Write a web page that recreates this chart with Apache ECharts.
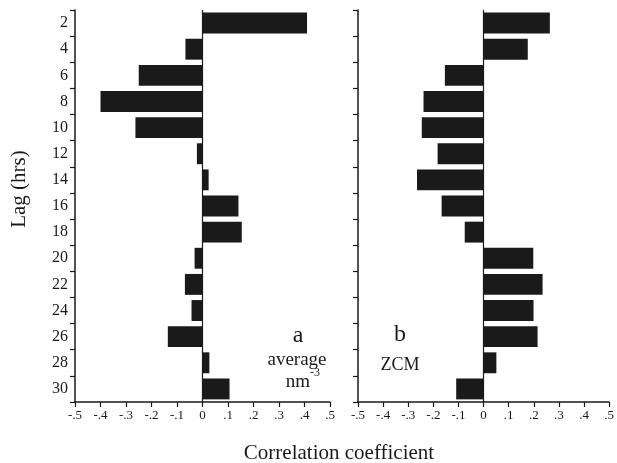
<!DOCTYPE html>
<html><head><meta charset="utf-8">
<script src="https://cdn.jsdelivr.net/npm/echarts@6/dist/echarts.min.js"></script>
<style>html,body{margin:0;padding:0;background:#fff}#c{width:617px;height:463px}</style>
</head><body><div id="c"></div>
<script>
const lags = ['2','4','6','8','10','12','14','16','18','20','22','24','26','28','30'];
const avgNm3 = [0.41,-0.067,-0.25,-0.40,-0.263,-0.022,0.024,0.141,0.154,-0.031,-0.069,-0.043,-0.136,0.027,0.106];
const zcm = [0.264,0.176,-0.154,-0.239,-0.246,-0.183,-0.265,-0.167,-0.075,0.198,0.235,0.199,0.215,0.051,-0.109];

const FONT = 'Liberation Serif';
const BLACK = '#1a1a1a';
const fmt = v => { const r = Math.round(v*10)/10; if (r === 0) return '0'; return (r<0?'-':'') + '.' + Math.round(Math.abs(r)*10); };

function xAxis(gi){
  return {type:'value', gridIndex:gi, min:-0.5, max:0.5, interval:0.1,
    axisLine:{show:true, onZero:false, lineStyle:{color:BLACK,width:1.5}},
    axisTick:{show:true, length:5, lineStyle:{color:BLACK,width:1.2}},
    axisLabel:{formatter:fmt, color:BLACK, fontFamily:FONT, fontSize:13, margin:7},
    splitLine:{show:false}};
}
function yAxis(gi, showLabels){
  return {type:'category', gridIndex:gi, data:lags, inverse:true,
    axisLine:{show:true, onZero:false, lineStyle:{color:BLACK,width:1.5}},
    axisTick:{show:true, length:5, lineStyle:{color:BLACK,width:1.2}},
    axisLabel:{show:showLabels, color:BLACK, fontFamily:FONT, fontSize:16, margin:7},
    splitLine:{show:false}};
}
function bars(gi, data){
  return {type:'bar', xAxisIndex:gi, yAxisIndex:gi, data:data, barCategoryGap:'20%',
    itemStyle:{color:BLACK}, silent:true,
    markLine:{silent:true, symbol:'none', label:{show:false}, lineStyle:{color:BLACK,type:'solid',width:1.2},
      data:[{xAxis:0}]}};
}
const chart = echarts.init(document.getElementById('c'), null, {renderer:'canvas'});
chart.setOption({
  animation:false,
  backgroundColor:'#fff',
  grid:[{left:75, width:255, top:10, height:392},{left:358, width:254, top:10, height:392}],
  xAxis:[xAxis(0), xAxis(1)],
  yAxis:[yAxis(0,true), yAxis(1,false)],
  series:[bars(0,avgNm3), bars(1,zcm)],
  graphic:[
    {type:'text', x:339, y:453, style:{text:'Correlation coefficient', font:'21px '+FONT, fill:BLACK, textAlign:'center', textVerticalAlign:'middle'}},
    {type:'text', x:19, y:189, rotation:Math.PI/2, style:{text:'Lag (hrs)', font:'21px '+FONT, fill:BLACK, textAlign:'center', textVerticalAlign:'middle'}},
    {type:'text', x:298, y:336, style:{text:'a', font:'24px '+FONT, fill:BLACK, textAlign:'center', textVerticalAlign:'middle'}},
    {type:'text', x:297, y:360, style:{text:'average', font:'19px '+FONT, fill:BLACK, textAlign:'center', textVerticalAlign:'middle'}},
    {type:'text', x:298, y:382, style:{text:'nm', font:'19px '+FONT, fill:BLACK, textAlign:'center', textVerticalAlign:'middle'}},
    {type:'text', x:310, y:373, style:{text:'-3', font:'12px '+FONT, fill:BLACK, textAlign:'left', textVerticalAlign:'middle'}},
    {type:'text', x:400, y:335, style:{text:'b', font:'24px '+FONT, fill:BLACK, textAlign:'center', textVerticalAlign:'middle'}},
    {type:'text', x:400, y:365, style:{text:'ZCM', font:'18px '+FONT, fill:BLACK, textAlign:'center', textVerticalAlign:'middle'}}
  ]
});
</script></body></html>
